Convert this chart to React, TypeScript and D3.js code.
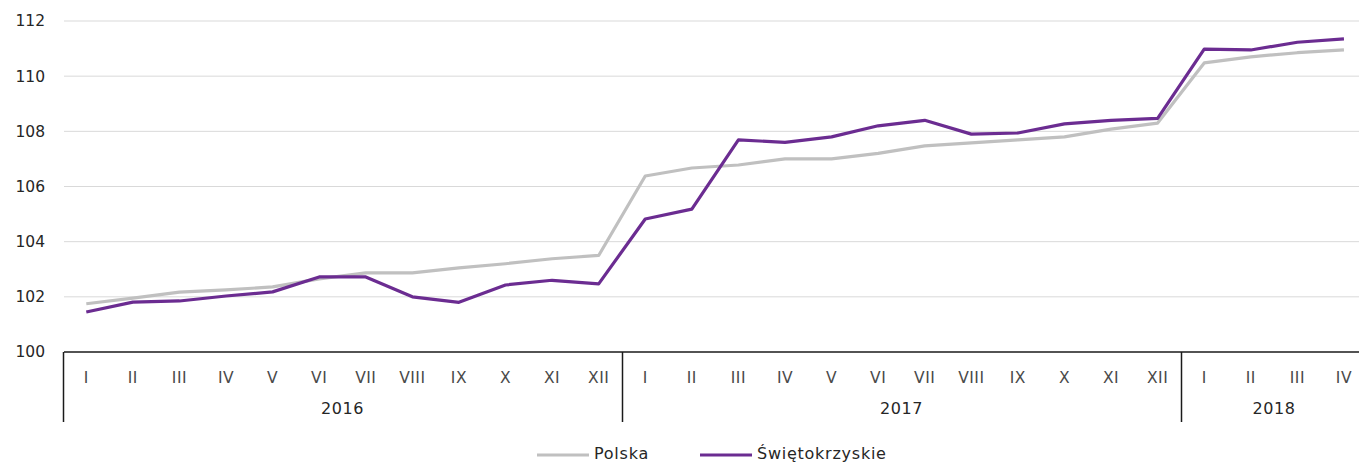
import React, { useEffect, useRef } from 'react';
import * as d3 from 'd3';

const months = ['I', 'II', 'III', 'IV', 'V', 'VI', 'VII', 'VIII', 'IX', 'X', 'XI', 'XII',
  'I', 'II', 'III', 'IV', 'V', 'VI', 'VII', 'VIII', 'IX', 'X', 'XI', 'XII',
  'I', 'II', 'III', 'IV'];
const years = ['2016', '2016', '2016', '2016', '2016', '2016', '2016', '2016', '2016', '2016', '2016', '2016',
  '2017', '2017', '2017', '2017', '2017', '2017', '2017', '2017', '2017', '2017', '2017', '2017',
  '2018', '2018', '2018', '2018'];
const polska = [101.75, 101.95, 102.17, 102.25, 102.36, 102.65, 102.87, 102.87, 103.05, 103.2, 103.38, 103.5,
  106.38, 106.67, 106.78, 107.0, 107.0, 107.2, 107.47, 107.58, 107.69, 107.8, 108.08, 108.3,
  110.48, 110.7, 110.85, 110.95];
const swietokrzyskie = [101.45, 101.81, 101.85, 102.03, 102.18, 102.72, 102.72, 102.0, 101.8, 102.43, 102.6, 102.47,
  104.82, 105.18, 107.69, 107.6, 107.8, 108.2, 108.4, 107.9, 107.94, 108.27, 108.4, 108.47,
  110.98, 110.95, 111.23, 111.35];
const yTicks = [100, 102, 104, 106, 108, 110, 112];
const seriesNames = ['Polska', 'Świętokrzyskie'];
const seriesColors = ['#c0c0c0', '#6b2c91'];

const W = 1359;
const H = 463;
const FONT = '"DejaVu Sans", sans-serif';

export default function App() {
  const ref = useRef<SVGSVGElement>(null);

  useEffect(() => {
    document.body.style.margin = '0';
    const svg = d3.select(ref.current);
    svg.selectAll('*').remove();

    const keys = months.map((m, i) => years[i] + '-' + m);
    const x = d3.scaleBand<string>().domain(keys).range([63, 63 + 28 * 46.58]);
    const y = d3.scaleLinear().domain([100, 112]).range([352, 21]);
    const cx = (i: number) => (x(keys[i]) as number) + x.bandwidth() / 2;

    // grid
    svg.append('g')
      .selectAll('line')
      .data(yTicks.filter(t => t > 100))
      .enter()
      .append('line')
      .attr('x1', 64).attr('x2', W)
      .attr('y1', d => y(d)).attr('y2', d => y(d))
      .attr('stroke', '#d9d9d9').attr('stroke-width', 1);

    // y labels
    svg.append('g')
      .selectAll('text')
      .data(yTicks)
      .enter()
      .append('text')
      .attr('x', 45)
      .attr('y', d => y(d))
      .attr('dy', '0.35em')
      .attr('text-anchor', 'end')
      .style('font-family', FONT)
      .style('font-size', '15.5px')
      .attr('fill', '#262626')
      .text(d => d);

    // axis
    const axisY = y(100);
    const bottom = 422;
    svg.append('line')
      .attr('x1', 64).attr('x2', W).attr('y1', axisY).attr('y2', axisY)
      .attr('stroke', '#1a1a1a').attr('stroke-width', 1.5);

    const yearList = Array.from(new Set(years));
    const yearStart = yearList.map(yr => years.indexOf(yr));
    const yearEnd = yearList.map(yr => years.lastIndexOf(yr));

    svg.append('g')
      .selectAll('line')
      .data(yearStart)
      .enter()
      .append('line')
      .attr('x1', d => Math.round(x(keys[d]) as number) + 0.5)
      .attr('x2', d => Math.round(x(keys[d]) as number) + 0.5)
      .attr('y1', axisY).attr('y2', bottom)
      .attr('stroke', '#1a1a1a').attr('stroke-width', 1.5);

    svg.append('g')
      .selectAll('text')
      .data(months)
      .enter()
      .append('text')
      .attr('x', (d, i) => cx(i))
      .attr('y', 378)
      .attr('dy', '0.35em')
      .attr('text-anchor', 'middle')
      .style('font-family', FONT)
      .style('font-size', '15.5px')
      .style('letter-spacing', '0.5px')
      .attr('fill', '#4a4a4a')
      .text(d => d);

    svg.append('g')
      .selectAll('text')
      .data(yearList)
      .enter()
      .append('text')
      .attr('x', (d, i) => {
        const x0 = x(keys[yearStart[i]]) as number;
        const x1 = (x(keys[yearEnd[i]]) as number) + x.bandwidth();
        return (x0 + x1) / 2;
      })
      .attr('y', 408)
      .attr('dy', '0.35em')
      .attr('text-anchor', 'middle')
      .style('font-family', FONT)
      .style('font-size', '16px')
      .style('letter-spacing', '0.6px')
      .attr('fill', '#262626')
      .text(d => d);

    // lines
    const line = d3.line<number>()
      .x((d, i) => cx(i))
      .y(d => y(d));

    [polska, swietokrzyskie].forEach((s, k) => {
      svg.append('path')
        .datum(s)
        .attr('d', line)
        .attr('fill', 'none')
        .attr('stroke', seriesColors[k])
        .attr('stroke-width', 3.2)
        .attr('stroke-linejoin', 'round');
    });

    // legend
    const legendX = [537, 700];
    const lg = svg.append('g');
    seriesNames.forEach((name, k) => {
      lg.append('line')
        .attr('x1', legendX[k]).attr('x2', legendX[k] + 52)
        .attr('y1', 455).attr('y2', 455)
        .attr('stroke', seriesColors[k]).attr('stroke-width', 3.2);
      lg.append('text')
        .attr('x', legendX[k] + 57)
        .attr('y', 458.5)
        .style('font-family', FONT)
        .style('font-size', '16px')
        .style('letter-spacing', '0.75px')
        .attr('fill', '#262626')
        .text(name);
    });
  }, []);

  return <svg ref={ref} width={W} height={H} style={{ display: 'block' }} />;
}
